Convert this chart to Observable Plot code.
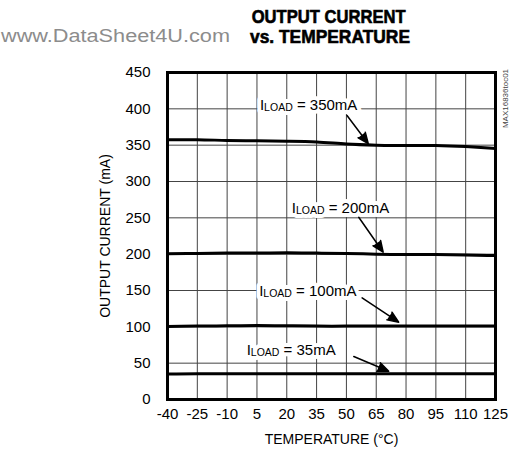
<!DOCTYPE html>
<html>
<head>
<meta charset="utf-8">
<script src="https://cdn.jsdelivr.net/npm/d3@7"></script>
<script src="https://cdn.jsdelivr.net/npm/@observablehq/plot@0.6"></script>
<style>
  html, body { margin: 0; padding: 0; background: white; }
  #wrap { position: relative; width: 510px; height: 458px; overflow: hidden; }
  #head { position: absolute; left: 0; top: 0; }
  #chart { position: absolute; left: 0; top: 60px; }
</style>
</head>
<body>
<div id="wrap">
  <svg id="head" width="510" height="60" font-family="Liberation Sans, Arial, sans-serif"></svg>
  <div id="chart"></div>
</div>
<script>
// ---- data ----
const titleLines = ["OUTPUT CURRENT", "vs. TEMPERATURE"];
const watermark = "www.DataSheet4U.com";
const xLabel = "TEMPERATURE (°C)";
const yLabel = "OUTPUT CURRENT (mA)";
const sideLabel = "MAX16836toc01";

const temps = [-40, -25, -10, 5, 20, 35, 50, 65, 80, 95, 110, 125];
const xTicks = [-40, -25, -10, 5, 20, 35, 50, 65, 80, 95, 110, 125];
const yTicks = [0, 50, 100, 150, 200, 250, 300, 350, 400, 450];

const seriesNames = ["350mA", "200mA", "100mA", "35mA"];
const i350 = [357.5, 357.5, 356.5, 356, 355.5, 354.5, 351.5, 350, 349.5, 349.5, 348, 345.5];
const i200 = [200.5, 201, 201.5, 201.5, 202, 201.5, 201, 200, 199.5, 199.5, 199, 198];
const i100 = [100.5, 101, 101.5, 102, 101.5, 101, 101, 101, 101, 101, 101, 101];
const i35  = [35, 35.5, 35.5, 35.5, 35.5, 35.5, 35.5, 35.5, 35.5, 35.5, 35.5, 35.5];

const annText = ["ILOAD = 350mA", "ILOAD = 200mA", "ILOAD = 100mA", "ILOAD = 35mA"];
const annX  = [31, 47, 30.6, 22.2];
const annY  = [405, 263.5, 149, 68];
const arrX1 = [50.3, 56.2, 57.9, 53.7];
const arrY1 = [390.8, 250.8, 139.9, 59.2];
const arrX2 = [61, 68.5, 76.3, 71.3];
const arrY2 = [352, 202.7, 106.4, 38.9];

// ---- header ----
const head = d3.select("#head");
head.append("text").attr("x", 1).attr("y", 41.7).attr("font-size", 17.5)
  .attr("fill", "#8c8c8c").attr("textLength", 229).attr("lengthAdjust", "spacingAndGlyphs")
  .text(watermark);
head.append("text").attr("x", 251.7).attr("y", 22.7).attr("font-size", 18).attr("font-weight", "bold")
  .attr("stroke", "black").attr("stroke-width", 0.6)
  .attr("textLength", 154).attr("lengthAdjust", "spacingAndGlyphs").text(titleLines[0]);
head.append("text").attr("x", 250).attr("y", 43.3).attr("font-size", 18).attr("font-weight", "bold")
  .attr("stroke", "black").attr("stroke-width", 0.6)
  .attr("textLength", 160).attr("lengthAdjust", "spacingAndGlyphs").text(titleLines[1]);

// ---- chart ----
const allSeries = [i350, i200, i100, i35];
const rows = allSeries.flatMap((vals, k) => vals.map((v, j) => ({s: seriesNames[k], t: temps[j], i: v})));
const ann = annText.map((t, k) => ({text: t, x: annX[k], y: annY[k], x1: arrX1[k], y1: arrY1[k], x2: arrX2[k], y2: arrY2[k]}));

const svg = Plot.plot({
  width: 510,
  height: 398,
  marginTop: 12,
  marginBottom: 59,
  marginLeft: 167,
  marginRight: 15,
  style: {fontFamily: "Liberation Sans, Arial, sans-serif", fontSize: "15px", color: "black", background: "white", overflow: "visible"},
  x: {domain: [-40, 125], ticks: xTicks, tickFormat: d => String(d), tickSize: 0, tickPadding: 9, label: null},
  y: {domain: [0, 450], ticks: yTicks, tickFormat: d => String(d), tickSize: 0, tickPadding: 17, label: null},
  marks: [
    Plot.ruleX(xTicks.slice(1, -1), {stroke: "#444", strokeWidth: 1}),
    Plot.ruleY(yTicks.slice(1, -1), {stroke: "#444", strokeWidth: 1}),
    Plot.line(rows, {x: "t", y: "i", z: "s", stroke: "black", strokeWidth: 3, curve: "natural"}),
    Plot.text(ann, {x: "x", y: "y", text: "text", fill: "white", stroke: "white", strokeWidth: 8, fontSize: 15, textAnchor: "middle", lineAnchor: "middle"}),
    Plot.text(ann, {x: "x", y: "y", text: "text", fill: "black", fontSize: 15, textAnchor: "middle", lineAnchor: "middle"}),
    Plot.arrow(ann, {x1: "x1", y1: "y1", x2: "x2", y2: "y2", stroke: "black", strokeWidth: 1.5, headLength: 12, headAngle: 45}),
    Plot.frame({stroke: "black", strokeWidth: 3}),
    Plot.text([xLabel], {frameAnchor: "bottom", dy: 40, text: d => d, fontSize: 14, textAnchor: "middle", lineAnchor: "middle"}),
    Plot.text([yLabel], {frameAnchor: "left", dx: -62, rotate: -90, text: d => d, fontSize: 14, textAnchor: "middle", lineAnchor: "middle"}),
    Plot.text([sideLabel], {frameAnchor: "top-right", dx: 10, dy: 26, rotate: -90, text: d => d, fontSize: 8, fill: "#444", textAnchor: "middle", lineAnchor: "middle"})
  ]
});
document.getElementById("chart").appendChild(svg);

// subscript-style "LOAD"
svg.querySelectorAll("text").forEach(t => {
  const s = t.textContent;
  if (s.startsWith("ILOAD")) {
    const rest = s.slice(5);
    while (t.firstChild) t.removeChild(t.firstChild);
    const ns = "http://www.w3.org/2000/svg";
    const a = document.createElementNS(ns, "tspan");
    a.setAttribute("font-size", "15");
    a.textContent = "I";
    t.appendChild(a);
    const sub = document.createElementNS(ns, "tspan");
    sub.setAttribute("font-size", "10.5");
    sub.setAttribute("dy", "1");
    sub.textContent = "LOAD";
    t.appendChild(sub);
    const r = document.createElementNS(ns, "tspan");
    r.setAttribute("font-size", "15");
    r.setAttribute("dy", "-1");
    r.textContent = rest;
    t.appendChild(r);
  }
});
// filled arrow heads
svg.querySelectorAll('g[aria-label="arrow"] path').forEach(p => {
  p.setAttribute("fill", "black");
  p.setAttribute("stroke-linejoin", "miter");
});
</script>
</body>
</html>
